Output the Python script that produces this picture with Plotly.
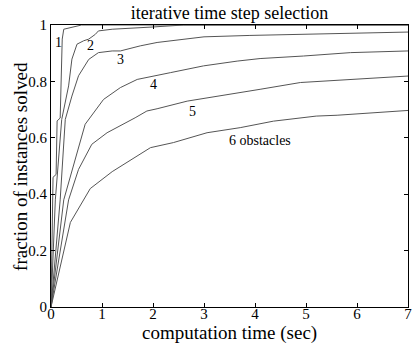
import plotly.graph_objects as go

# curve data (x: seconds, y: fraction solved)
c1_x = [0, 0.04, 0.10, 0.12, 0.18, 0.20, 0.22, 0.25, 0.35, 0.45, 0.60, 7.0]
c1_y = [0, 0.46, 0.47, 0.66, 0.67, 0.80, 0.95, 0.985, 0.99, 0.995, 1.0, 1.0]

c2_x = [0, 0.085, 0.21, 0.25, 0.345, 0.41, 0.51, 0.64, 0.74, 0.87, 0.93, 1.2, 1.65, 2.0, 2.6, 7.0]
c2_y = [0, 0.38, 0.665, 0.70, 0.784, 0.879, 0.932, 0.944, 0.95, 0.967, 0.979, 0.985, 0.988, 0.993, 1.0, 1.0]

c3_x = [0, 0.18, 0.28, 0.41, 0.54, 0.74, 0.93, 1.2, 1.36, 1.59, 1.75, 2.08, 2.67, 3.0, 3.9, 5.0, 6.0, 7.0]
c3_y = [0, 0.38, 0.665, 0.748, 0.82, 0.878, 0.902, 0.908, 0.908, 0.92, 0.926, 0.938, 0.95, 0.958, 0.963, 0.967, 0.972, 0.975]

c4_x = [0, 0.25, 0.67, 1.03, 1.36, 1.69, 2.34, 2.99, 3.65, 4.1, 4.95, 5.87, 7.0]
c4_y = [0, 0.38, 0.648, 0.736, 0.778, 0.807, 0.831, 0.855, 0.872, 0.881, 0.89, 0.902, 0.908]

c5_x = [0, 0.345, 0.54, 0.80, 1.10, 1.36, 1.65, 1.88, 2.08, 2.67, 3.32, 4.1, 4.89, 5.87, 7.0]
c5_y = [0, 0.38, 0.488, 0.577, 0.618, 0.642, 0.671, 0.695, 0.703, 0.73, 0.748, 0.772, 0.796, 0.807, 0.819]

c6_x = [0, 0.38, 0.77, 1.2, 1.95, 2.4, 3.06, 3.71, 4.36, 5.2, 5.61, 7.0]
c6_y = [0, 0.30, 0.42, 0.48, 0.565, 0.583, 0.618, 0.636, 0.659, 0.677, 0.68, 0.697]

labels = ["1", "2", "3", "4", "5", "6 obstacles"]
label_x = [0.14, 0.77, 1.36, 2.0, 2.77, 4.1]
label_y = [0.939, 0.928, 0.878, 0.79, 0.694, 0.59]

x_ticks = [0, 1, 2, 3, 4, 5, 6, 7]
y_ticks = [0, 0.2, 0.4, 0.6, 0.8, 1]
y_tick_text = ["0", "0.2", "0.4", "0.6", "0.8", "1"]

FONT = "Liberation Serif"

fig = go.Figure()
for xs, ys in [(c1_x, c1_y), (c2_x, c2_y), (c3_x, c3_y), (c4_x, c4_y), (c5_x, c5_y), (c6_x, c6_y)]:
    fig.add_trace(go.Scatter(x=xs, y=ys, mode="lines",
                             line=dict(color="#555555", width=1), showlegend=False,
                             hoverinfo="skip"))

for t, lx, ly in zip(labels, label_x, label_y):
    fig.add_annotation(x=lx, y=ly, text=t, showarrow=False,
                       font=dict(family=FONT, size=14, color="black"))

# axis titles
fig.add_annotation(xref="paper", yref="paper", x=0.5, y=-0.093, yanchor="middle",
                   text="computation time (sec)", showarrow=False,
                   font=dict(family=FONT, size=19, color="black"))
fig.add_annotation(xref="paper", yref="paper", x=-0.087, y=0.5, xanchor="center",
                   yanchor="middle", textangle=-90,
                   text="fraction of instances solved", showarrow=False,
                   font=dict(family=FONT, size=19, color="black"))

axis_common = dict(showgrid=False, zeroline=False, showline=True, linecolor="black",
                   linewidth=1, mirror="ticks", ticks="inside", ticklen=4,
                   tickcolor="black", automargin=False,
                   tickfont=dict(family=FONT, size=15, color="black"))

fig.update_layout(
    width=415, height=345,
    margin=dict(l=51, r=7, t=25, b=38),
    paper_bgcolor="white", plot_bgcolor="white",
    title=dict(text="iterative time step selection", x=0.5, xanchor="center",
               xref="paper", y=0.962, yanchor="middle",
               font=dict(family=FONT, size=18, color="black")),
    xaxis=dict(range=[0, 7], tickmode="array", tickvals=x_ticks,
               ticklabelstandoff=-7, **axis_common),
    yaxis=dict(range=[0, 1], tickmode="array", tickvals=y_ticks, ticktext=y_tick_text,
               **axis_common),
)

fig.write_html("out.html", config={"displayModeBar": False},
               post_script="document.body.style.margin='0';document.body.style.overflow='hidden';")
